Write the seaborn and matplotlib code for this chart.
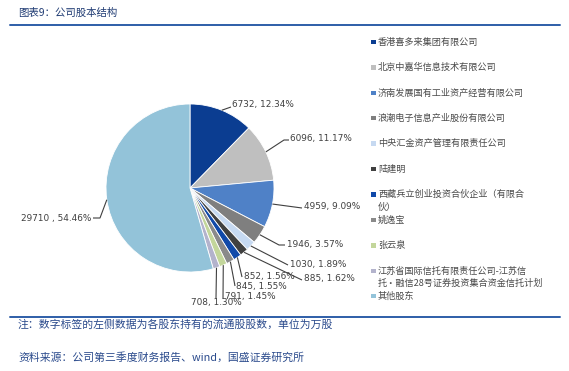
import matplotlib
matplotlib.use("Agg")
import matplotlib.pyplot as plt
from matplotlib.patches import Rectangle
import numpy as np
import seaborn as sns

# ---- data -------------------------------------------------------------
shareholders = [
    "香港喜多来集团有限公司",
    "北京中嘉华信息技术有限公司",
    "济南发展国有工业资产经营有限公司",
    "浪潮电子信息产业股份有限公司",
    "中央汇金资产管理有限责任公司",
    "陆建明",
    "西藏兵立创业投资合伙企业（有限合\n伙）",
    "姚逸宝",
    "张云泉",
    "江苏省国际信托有限责任公司-江苏信\n托·融信28号证券投资集合资金信托计划",
    "其他股东",
]
shares = [6732, 6096, 4959, 1946, 1030, 885, 852, 845, 791, 708, 29710]
title = "图表9：公司股本结构"
note = "注：数字标签的左侧数据为各股东持有的流通股股数，单位为万股"
source = "资料来源：公司第三季度财务报告、wind，国盛证券研究所"

slice_colors = ["#0b3d91", "#bfbfbf", "#4f81c7", "#7f7f7f", "#c6d9f1",
                "#404040", "#1049a9", "#8a8a8a", "#c3d69b", "#b3b3cc",
                "#93c3d9"]

# ---- styling ----------------------------------------------------------
sns.set_theme(style="white")
plt.rcParams["font.family"] = ["Noto Sans CJK SC", "DejaVu Sans"]
palette = sns.color_palette(slice_colors)

W, H = 569, 371
fig = plt.figure(figsize=(W / 100, H / 100), dpi=100)
ax = fig.add_axes([0, 0, 1, 1])


def Y(y):
    """Convert a top-down pixel row into the axes' bottom-up coordinate."""
    return H - y


cx, cy, r = 190, Y(188), 84
wedges, _ = ax.pie(shares, colors=palette, startangle=90, counterclock=False,
                   center=(cx, cy), radius=r,
                   wedgeprops=dict(edgecolor="white", linewidth=0.6))
ax.set_xlim(0, W)
ax.set_ylim(0, H)
ax.axis("off")

# ---- value labels with leader lines -----------------------------------
total = sum(shares)
label_texts = []
for i, v in enumerate(shares):
    sep = " , " if i == len(shares) - 1 else ", "
    label_texts.append(f"{v}{sep}{v / total * 100:.2f}%")

# (text x, text y, ha, va, elbow, line end) in top-down pixel rows
label_layout = [
    (232, 105, "left", "center", None, (231, 107)),
    (290, 139, "left", "center", (284, 140), (289, 140)),
    (304, 207, "left", "center", None, (302, 208)),
    (287, 244, "left", "center", (279, 245), (285, 245)),
    (290, 264, "left", "center", None, (288, 265)),
    (304, 279, "left", "center", None, (302, 280)),
    (244, 276, "left", "center", None, (242, 277)),
    (236, 287, "left", "center", None, (235, 286)),
    (225, 296, "left", "center", None, (223, 299)),
    (216, 303, "center", "center", None, (216, 298)),
    (91, 218, "right", "center", (100, 218), (93, 218)),
]

label_color = "#404040"
for w, txt, (tx, ty, ha, va, elbow, end) in zip(wedges, label_texts, label_layout):
    mid = np.deg2rad((w.theta1 + w.theta2) / 2)
    ex, ey = cx + r * np.cos(mid), cy + r * np.sin(mid)
    xs, ys = [ex], [ey]
    if elbow is not None:
        xs.append(elbow[0]); ys.append(Y(elbow[1]))
    xs.append(end[0]); ys.append(Y(end[1]))
    ax.plot(xs, ys, color=label_color, lw=0.8, solid_capstyle="butt")
    ax.text(tx, Y(ty), txt, ha=ha, va=va, fontsize=6.4, color=label_color,
            family="DejaVu Sans")

# ---- legend -----------------------------------------------------------
legend_rows = [42, 67.5, 93, 118, 143.5, 169, 194.5, 220, 245.5, 271, 296]
for name, c, yr in zip(shareholders, palette, legend_rows):
    ax.add_patch(Rectangle((371, Y(yr) - 2.3), 4.6, 4.6, color=c, lw=0))
    ax.text(378, Y(yr), name.split("\n")[0], ha="left", va="center",
            fontsize=6.6, color="#4a4a4a")
    if "\n" in name:
        ax.text(378, Y(yr + 12.5), name.split("\n")[1], ha="left",
                va="center", fontsize=6.6, color="#4a4a4a")

# ---- header, rules and footnotes --------------------------------------
rule_color = "#2e5ea8"
ax.plot([10, 560], [Y(24.5), Y(24.5)], color=rule_color, lw=1.4)
ax.plot([10, 560], [Y(317), Y(317)], color=rule_color, lw=1.4)
ax.text(18, Y(13), title, ha="left", va="center", fontsize=7.5,
        color="#1f3b73", style="italic")
ax.text(18, Y(325), note, ha="left", va="center", fontsize=7.8,
        color="#2a4a8c", style="italic")
ax.text(18, Y(357), source, ha="left", va="center", fontsize=7.8,
        color="#2a4a8c", style="italic")

fig.savefig("out.png", dpi=100)
